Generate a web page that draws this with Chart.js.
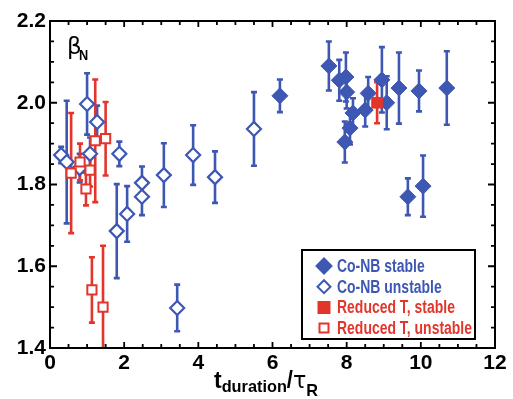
<!DOCTYPE html>
<html>
<head>
<meta charset="utf-8">
<script src="https://cdn.jsdelivr.net/npm/chart.js@4/dist/chart.umd.min.js"></script>
<style>
html,body{margin:0;padding:0;background:#fff;}
#wrap{width:513px;height:399px;position:relative;}
</style>
</head>
<body>
<div id="wrap"><canvas id="c" width="513" height="399"></canvas></div>
<script>
// ---- data ----
const stableX   = [6.2, 7.52, 7.80, 7.98, 8.0, 8.17, 8.09, 7.95, 8.5, 8.58, 8.95, 9.08, 9.41, 9.95, 10.7, 9.65, 10.06];
const stableY   = [2.017, 2.09, 2.055, 2.063, 2.026, 1.975, 1.938, 1.904, 1.982, 2.023, 2.056, 2.0, 2.036, 2.029, 2.036, 1.77, 1.796];
const stableErr = [0.04, 0.06, 0.05, 0.06, 0.04, 0.036, 0.04, 0.05, 0.04, 0.04, 0.08, 0.065, 0.087, 0.05, 0.09, 0.045, 0.075];

const unstX   = [0.3, 0.45, 1.0, 1.27, 1.08, 0.8, 1.87, 2.48, 2.48, 3.07, 3.86, 4.45, 5.5, 2.08, 1.8, 3.43];
const unstY   = [1.872, 1.855, 1.997, 1.953, 1.875, 1.84, 1.875, 1.804, 1.77, 1.823, 1.872, 1.818, 1.936, 1.728, 1.686, 1.498];
const unstErr = [0.02, 0.15, 0.075, 0.04, 0.04, 0.035, 0.03, 0.04, 0.045, 0.078, 0.073, 0.063, 0.09, 0.068, 0.115, 0.057];

const redStableX   = [8.82];
const redStableY   = [2.0];
const redStableErr = [0.05];

const redUnstX   = [0.57, 0.81, 1.08, 0.97, 1.22, 1.5, 1.13, 1.43];
const redUnstY   = [1.828, 1.855, 1.835, 1.789, 1.907, 1.912, 1.542, 1.50];
const redUnstErr = [0.147, 0.045, 0.04, 0.04, 0.15, 0.09, 0.08, 0.15];

const xTicks = [0, 2, 4, 6, 8, 10, 12];
const yTicks = [1.4, 1.6, 1.8, 2.0, 2.2];
const legendLabels = ['Co-NB stable', 'Co-NB unstable', 'Reduced T, stable', 'Reduced T, unstable'];

// ---- styles ----
const BLUE = '#3d57b3';
const RED = '#e2352c';
const FONT = "'Liberation Sans','Arial',sans-serif";

function pts(xs, ys, es) { return xs.map((x, i) => ({x: x, y: ys[i], e: es[i]})); }

function squeezeText(ctx, txt, x, y, k) {
  ctx.save();
  ctx.translate(x, y);
  ctx.scale(k, 1);
  ctx.fillText(txt, 0, 0);
  ctx.restore();
}

const errorBars = {
  id: 'errorBars',
  beforeDatasetsDraw(chart) {
    const ctx = chart.ctx, xs = chart.scales.x, ys = chart.scales.y, a = chart.chartArea;
    ctx.save();
    ctx.beginPath(); ctx.rect(a.left, a.top, a.right - a.left, a.bottom - a.top); ctx.clip();
    chart.data.datasets.forEach(ds => {
      ctx.strokeStyle = ds.borderColor;
      ctx.lineWidth = 2.6;
      ds.data.forEach(p => {
        const px = xs.getPixelForValue(p.x);
        const p1 = ys.getPixelForValue(p.y + p.e), p2 = ys.getPixelForValue(p.y - p.e);
        ctx.beginPath();
        ctx.moveTo(px, p1); ctx.lineTo(px, p2);
        ctx.moveTo(px - 3, p1); ctx.lineTo(px + 3, p1);
        ctx.moveTo(px - 3, p2); ctx.lineTo(px + 3, p2);
        ctx.stroke();
      });
    });
    ctx.restore();
  }
};

const frame = {
  id: 'frame',
  afterDatasetsDraw(chart) {
    const ctx = chart.ctx, xs = chart.scales.x, ys = chart.scales.y, a = chart.chartArea;
    ctx.save();
    ctx.strokeStyle = '#000';
    ctx.lineWidth = 2;
    ctx.strokeRect(a.left, a.top, a.right - a.left, a.bottom - a.top);
    ctx.lineWidth = 1.8;
    ctx.beginPath();
    for (let v = 0; v <= 12.001; v += 0.5) {
      const px = xs.getPixelForValue(v);
      const L = (Math.abs(v / 2 - Math.round(v / 2)) < 1e-6) ? 6 : 4;
      ctx.moveTo(px, a.bottom); ctx.lineTo(px, a.bottom - L);
      ctx.moveTo(px, a.top); ctx.lineTo(px, a.top + L);
    }
    for (let k = 0; k <= 16; k++) {
      const v = 1.4 + k * 0.05;
      const py = ys.getPixelForValue(v);
      const L = (k % 4 === 0) ? 7 : 4;
      ctx.moveTo(a.left, py); ctx.lineTo(a.left + L, py);
      ctx.moveTo(a.right, py); ctx.lineTo(a.right - L, py);
    }
    ctx.stroke();

    // beta_N label
    ctx.fillStyle = '#000';
    ctx.textBaseline = 'alphabetic';
    ctx.textAlign = 'left';
    ctx.font = "23px 'DejaVu Sans',sans-serif";
    ctx.fillText('β', a.left + 17, a.top + 33);
    ctx.font = "bold 15px " + FONT;
    squeezeText(ctx, 'N', a.left + 29, a.top + 39, 0.85);

    // x axis title
    const parts = [
      {t: 't', f: "bold 24px " + FONT, dy: 0},
      {t: 'duration', f: "bold 17px " + FONT, dy: 4},
      {t: '/', f: "bold 23px " + FONT, dy: 0},
      {t: 'τ', f: "23px 'DejaVu Sans',sans-serif", dy: 0},
      {t: 'R', f: "bold 17px " + FONT, dy: 8}
    ];
    let w = 0;
    parts.forEach(p => { ctx.font = p.f; p.w = ctx.measureText(p.t).width; w += p.w; });
    const kT = 104 / w;
    let x = 214;
    const base = 388;
    parts.forEach(p => { ctx.font = p.f; squeezeText(ctx, p.t, x, base + p.dy, kT); x += p.w * kT; });

    // legend
    const lx = 302, ly = 250, lw = 173, lh = 89;
    ctx.fillStyle = '#fff';
    ctx.fillRect(lx, ly, lw, lh);
    ctx.lineWidth = 2;
    ctx.strokeStyle = '#000';
    ctx.strokeRect(lx, ly, lw, lh);
    const ds = chart.data.datasets;
    ctx.font = "bold 18px " + FONT;
    ctx.textBaseline = 'middle';
    const kL = 135 / ctx.measureText(legendLabels[3]).width;
    legendLabels.forEach((lab, i) => {
      const cy = ly + 16 + i * 20.7;
      const d = ds[i];
      const cx = lx + 22;
      ctx.lineWidth = 2;
      ctx.strokeStyle = d.borderColor;
      ctx.fillStyle = d.backgroundColor;
      ctx.beginPath();
      if (d.pointStyle === 'rectRot') {
        const r = i === 0 ? 7.5 : 6.5;
        ctx.moveTo(cx, cy - r); ctx.lineTo(cx + r, cy); ctx.lineTo(cx, cy + r); ctx.lineTo(cx - r, cy); ctx.closePath();
      } else {
        const s = i === 2 ? 5.5 : 4.5;
        ctx.rect(cx - s, cy - s, 2 * s, 2 * s);
      }
      ctx.fill(); ctx.stroke();
      ctx.fillStyle = d.borderColor;
      squeezeText(ctx, lab, lx + 35, cy + 1, kL);
    });
    ctx.restore();
  }
};

new Chart(document.getElementById('c'), {
  type: 'scatter',
  data: {
    datasets: [
      {label: legendLabels[0], order: 3, data: pts(stableX, stableY, stableErr), pointStyle: 'rectRot', pointRadius: 8, borderWidth: 1, borderColor: BLUE, backgroundColor: BLUE},
      {label: legendLabels[1], order: 2, data: pts(unstX, unstY, unstErr), pointStyle: 'rectRot', pointRadius: 7, borderWidth: 2.2, borderColor: BLUE, backgroundColor: '#ffffff'},
      {label: legendLabels[2], order: 1, data: pts(redStableX, redStableY, redStableErr), pointStyle: 'rect', pointRadius: 7.5, borderWidth: 1, borderColor: RED, backgroundColor: RED},
      {label: legendLabels[3], order: 0, data: pts(redUnstX, redUnstY, redUnstErr), pointStyle: 'rect', pointRadius: 6.5, borderWidth: 2, borderColor: RED, backgroundColor: '#ffffff'}
    ]
  },
  options: {
    responsive: false,
    animation: false,
    events: [],
    layout: {padding: {top: 21, right: 18, left: 0, bottom: 0}},
    plugins: {legend: {display: false}, tooltip: {enabled: false}},
    scales: {
      x: {
        type: 'linear', min: 0, max: 12,
        grid: {display: false, drawTicks: false},
        border: {display: false},
        afterFit: s => { s.height = 51; },
        afterBuildTicks: s => { s.ticks = xTicks.map(v => ({value: v})); },
        ticks: {padding: 3, color: '#000', font: {family: FONT, size: 21, weight: 'bold'}, callback: v => String(v), maxRotation: 0}
      },
      y: {
        type: 'linear', min: 1.4, max: 2.2,
        grid: {display: false, drawTicks: false},
        border: {display: false},
        afterFit: s => { s.width = 50; },
        afterBuildTicks: s => { s.ticks = yTicks.map(v => ({value: v})); },
        ticks: {padding: 4, color: '#000', font: {family: FONT, size: 21, weight: 'bold'}, callback: v => Number(v).toFixed(1)}
      }
    }
  },
  plugins: [errorBars, frame]
});
</script>
</body>
</html>
